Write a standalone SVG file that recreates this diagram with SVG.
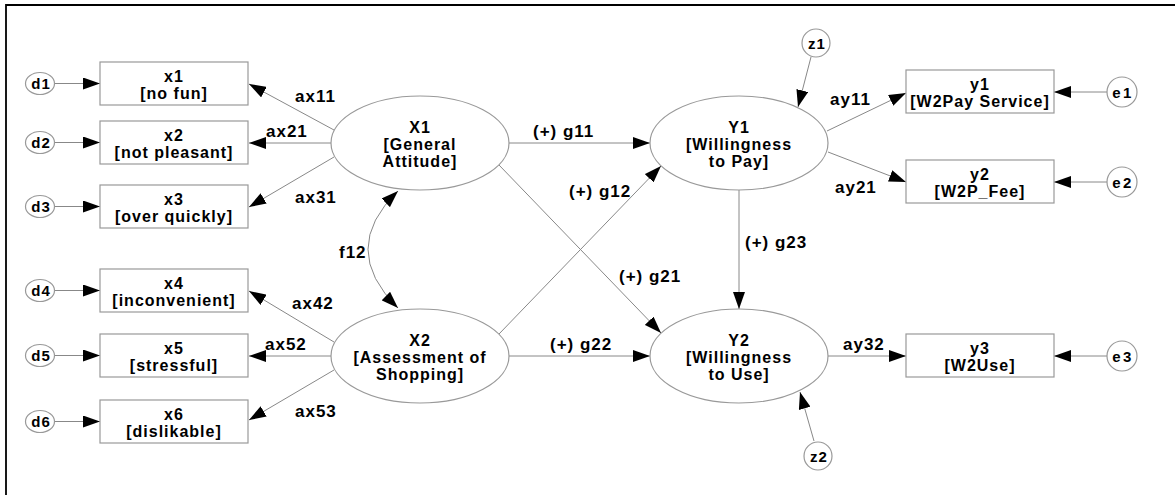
<svg xmlns="http://www.w3.org/2000/svg" width="1175" height="495" viewBox="0 0 1175 495">
<style>
text{font-family:"Liberation Sans",Arial,sans-serif;font-weight:bold;fill:#000}
.t{font-size:16px;letter-spacing:1px;text-anchor:middle}
.l{font-size:17px;letter-spacing:1px}
.c{font-size:15px;letter-spacing:1px;text-anchor:middle}
.ce{font-size:15px;letter-spacing:2.5px;text-anchor:middle}
.box{fill:#fff;stroke:#999;stroke-width:1.2}
.ell{fill:#fff;stroke:#999;stroke-width:1.2}
.cn{fill:none;stroke:#888;stroke-width:1}
.frame{stroke:#000;stroke-width:1.8;fill:none}
</style>
<defs>
<marker id="ah" markerUnits="userSpaceOnUse" viewBox="0 0 17 12" refX="17" refY="6" markerWidth="17" markerHeight="12" orient="auto-start-reverse">
<path d="M0,0 L17,6 L0,12 z" fill="#000"/>
</marker>
</defs>
<rect width="1175" height="495" fill="#fff"/>
<path class="frame" d="M6,495 L6,5 L1175,5"/>

<g id="connectors">
<line class="cn" x1="55" y1="83.5" x2="100" y2="83.5" marker-end="url(#ah)"/>
<line class="cn" x1="55" y1="142.5" x2="100" y2="142.5" marker-end="url(#ah)"/>
<line class="cn" x1="55" y1="206.5" x2="100" y2="206.5" marker-end="url(#ah)"/>
<line class="cn" x1="55" y1="290.5" x2="100" y2="290.5" marker-end="url(#ah)"/>
<line class="cn" x1="55" y1="355.5" x2="100" y2="355.5" marker-end="url(#ah)"/>
<line class="cn" x1="55" y1="421.5" x2="100" y2="421.5" marker-end="url(#ah)"/>
<line class="cn" x1="334" y1="130" x2="249" y2="84" marker-end="url(#ah)"/>
<line class="cn" x1="331" y1="143" x2="249" y2="143" marker-end="url(#ah)"/>
<line class="cn" x1="334" y1="157" x2="249" y2="207" marker-end="url(#ah)"/>
<line class="cn" x1="334" y1="342" x2="249" y2="291" marker-end="url(#ah)"/>
<line class="cn" x1="331" y1="356" x2="249" y2="356" marker-end="url(#ah)"/>
<line class="cn" x1="334" y1="370" x2="249" y2="420" marker-end="url(#ah)"/>
<path class="cn" d="M398,191 Q338,249 398,308" marker-start="url(#ah)" marker-end="url(#ah)"/>
<line class="cn" x1="509" y1="143" x2="650" y2="143" marker-end="url(#ah)"/>
<line class="cn" x1="509" y1="356" x2="650" y2="356" marker-end="url(#ah)"/>
<line class="cn" x1="499" y1="165" x2="661" y2="333" marker-end="url(#ah)"/>
<line class="cn" x1="499" y1="334" x2="661" y2="166" marker-end="url(#ah)"/>
<line class="cn" x1="739" y1="190" x2="739" y2="309" marker-end="url(#ah)"/>
<line class="cn" x1="811" y1="57" x2="798" y2="107" marker-end="url(#ah)"/>
<line class="cn" x1="814" y1="441" x2="800" y2="392" marker-end="url(#ah)"/>
<line class="cn" x1="827" y1="131" x2="906" y2="93" marker-end="url(#ah)"/>
<line class="cn" x1="828" y1="152" x2="906" y2="182" marker-end="url(#ah)"/>
<line class="cn" x1="828" y1="356" x2="906" y2="356" marker-end="url(#ah)"/>
<line class="cn" x1="1107" y1="92" x2="1054" y2="92" marker-end="url(#ah)"/>
<line class="cn" x1="1107" y1="182" x2="1054" y2="182" marker-end="url(#ah)"/>
<line class="cn" x1="1107" y1="356" x2="1054" y2="356" marker-end="url(#ah)"/>
</g>

<g id="labels">
<text class="l" x="295" y="102">ax11</text>
<text class="l" x="266" y="137">ax21</text>
<text class="l" x="295" y="203">ax31</text>
<text class="l" x="292" y="309">ax42</text>
<text class="l" x="265" y="350">ax52</text>
<text class="l" x="295" y="417">ax53</text>
<text class="l" x="339" y="258">f12</text>
<text class="l" x="533" y="137">(+) g11</text>
<text class="l" x="569" y="197">(+) g12</text>
<text class="l" x="619" y="282">(+) g21</text>
<text class="l" x="550" y="350">(+) g22</text>
<text class="l" x="745" y="248">(+) g23</text>
<text class="l" x="830" y="105">ay11</text>
<text class="l" x="835" y="193">ay21</text>
<text class="l" x="843" y="350">ay32</text>
</g>

<g id="d1"><ellipse class="ell" cx="40" cy="83.5" rx="14.5" ry="11"/><text class="c" x="41" y="89">d1</text></g>
<g id="d2"><ellipse class="ell" cx="40" cy="142.5" rx="14.5" ry="11"/><text class="c" x="41" y="148">d2</text></g>
<g id="d3"><ellipse class="ell" cx="40" cy="206.5" rx="14.5" ry="11"/><text class="c" x="41" y="212">d3</text></g>
<g id="d4"><ellipse class="ell" cx="40" cy="290.5" rx="14.5" ry="11"/><text class="c" x="41" y="296">d4</text></g>
<g id="d5"><ellipse class="ell" cx="40" cy="355.5" rx="14.5" ry="11"/><text class="c" x="41" y="361">d5</text></g>
<g id="d6"><ellipse class="ell" cx="40" cy="421.5" rx="14.5" ry="11"/><text class="c" x="41" y="427">d6</text></g>

<g id="x1"><rect class="box" x="100" y="62" width="148" height="43"/><text class="t" x="174" y="82">x1</text><text class="t" x="174" y="99">[no fun]</text></g>
<g id="x2"><rect class="box" x="100" y="121" width="148" height="43"/><text class="t" x="174" y="141">x2</text><text class="t" x="174" y="158">[not pleasant]</text></g>
<g id="x3"><rect class="box" x="100" y="185" width="148" height="43"/><text class="t" x="174" y="205">x3</text><text class="t" x="174" y="222">[over quickly]</text></g>
<g id="x4"><rect class="box" x="100" y="269" width="148" height="43"/><text class="t" x="174" y="289">x4</text><text class="t" x="174" y="306">[inconvenient]</text></g>
<g id="x5"><rect class="box" x="100" y="334" width="148" height="43"/><text class="t" x="174" y="354">x5</text><text class="t" x="174" y="371">[stressful]</text></g>
<g id="x6"><rect class="box" x="100" y="400" width="148" height="43"/><text class="t" x="174" y="420">x6</text><text class="t" x="174" y="437">[dislikable]</text></g>

<g id="X1"><ellipse class="ell" cx="420" cy="143" rx="89" ry="47"/><text class="t" x="420" y="133">X1</text><text class="t" x="420" y="150">[General</text><text class="t" x="420" y="167">Attitude]</text></g>
<g id="X2"><ellipse class="ell" cx="420" cy="356" rx="89" ry="47"/><text class="t" x="420" y="346">X2</text><text class="t" x="420" y="363">[Assessment of</text><text class="t" x="420" y="380">Shopping]</text></g>
<g id="Y1"><ellipse class="ell" cx="739" cy="143" rx="89" ry="47"/><text class="t" x="739" y="133">Y1</text><text class="t" x="739" y="150">[Willingness</text><text class="t" x="739" y="167">to Pay]</text></g>
<g id="Y2"><ellipse class="ell" cx="739" cy="356" rx="89" ry="47"/><text class="t" x="739" y="346">Y2</text><text class="t" x="739" y="363">[Willingness</text><text class="t" x="739" y="380">to Use]</text></g>

<g id="z1"><circle class="ell" cx="816" cy="43" r="14"/><text class="c" x="817" y="48.5">z1</text></g>
<g id="z2"><circle class="ell" cx="818" cy="456" r="14"/><text class="c" x="819" y="461.5">z2</text></g>

<g id="y1"><rect class="box" x="906" y="70" width="148" height="43"/><text class="t" x="980" y="90">y1</text><text class="t" x="980" y="107">[W2Pay Service]</text></g>
<g id="y2"><rect class="box" x="906" y="160" width="148" height="43"/><text class="t" x="980" y="180">y2</text><text class="t" x="980" y="197">[W2P_Fee]</text></g>
<g id="y3"><rect class="box" x="906" y="334" width="148" height="43"/><text class="t" x="980" y="354">y3</text><text class="t" x="980" y="371">[W2Use]</text></g>

<g id="e1"><circle class="ell" cx="1122" cy="92" r="15"/><text class="ce" x="1123" y="97.5">e1</text></g>
<g id="e2"><circle class="ell" cx="1122" cy="182" r="15"/><text class="ce" x="1123" y="187.5">e2</text></g>
<g id="e3"><circle class="ell" cx="1122" cy="356" r="15"/><text class="ce" x="1123" y="361.5">e3</text></g>
</svg>
